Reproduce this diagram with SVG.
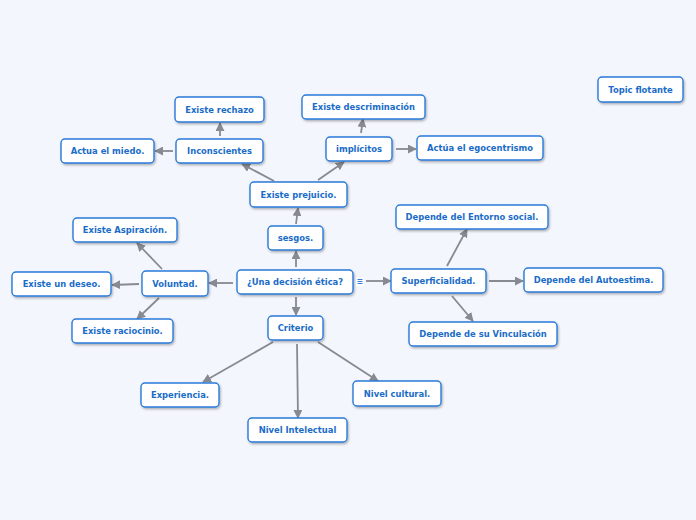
<svg xmlns="http://www.w3.org/2000/svg" width="696" height="520" viewBox="0 0 696 520">
<style>
.n rect{fill:#ffffff;stroke:#2a7ad9;stroke-width:1.4;filter:url(#sh)}
.n text{font-family:"DejaVu Sans",Verdana,sans-serif;font-weight:bold;font-size:8.4px;fill:#1a6cc8;text-anchor:middle}
.c line{stroke:#878a90;stroke-width:1.8;marker-end:url(#ah)}
</style>
<defs>
<filter id="sh" x="-20%" y="-30%" width="140%" height="170%">
<feDropShadow dx="1" dy="1.5" stdDeviation="0.9" flood-color="#000" flood-opacity="0.3"/>
</filter>
<marker id="ah" viewBox="0 0 10 10" refX="9" refY="5" markerWidth="9" markerHeight="9" markerUnits="userSpaceOnUse" orient="auto">
<path d="M0,0 L10,5 L0,10 z" fill="#878a90"/>
</marker>
</defs>
<rect width="696" height="520" fill="#f3f6fd"/>
<g class="c" id="connectors">
<line x1="220" y1="136" x2="220" y2="123"/>
<line x1="173" y1="151" x2="155" y2="151"/>
<line x1="274" y1="181" x2="242" y2="164"/>
<line x1="318" y1="180" x2="344" y2="162"/>
<line x1="361" y1="133" x2="363" y2="119"/>
<line x1="396" y1="149" x2="416" y2="149"/>
<line x1="296" y1="224" x2="298" y2="208"/>
<line x1="296" y1="267" x2="296" y2="251"/>
<line x1="233" y1="283" x2="209" y2="283"/>
<line x1="162" y1="269" x2="137" y2="243"/>
<line x1="139" y1="284" x2="112" y2="285"/>
<line x1="159" y1="298" x2="137" y2="319"/>
<line x1="296" y1="297" x2="296" y2="315"/>
<line x1="366" y1="281" x2="391" y2="281"/>
<line x1="447" y1="266" x2="467" y2="229"/>
<line x1="489" y1="281" x2="523" y2="281"/>
<line x1="452" y1="296" x2="473" y2="321"/>
<line x1="273" y1="342" x2="203" y2="382"/>
<line x1="297" y1="344" x2="298" y2="418"/>
<line x1="318" y1="342" x2="378" y2="381"/>
</g>
<g id="note-icon">
<rect x="356" y="277" width="8" height="9" fill="#ffffff"/>
<path d="M357.5,279.5h5M357.5,281.5h5M357.5,283.5h5" stroke="#3a7fd6" stroke-width="1"/>
</g>
<g class="n" id="n-existe-rechazo"><rect x="175" y="97" width="89" height="25" rx="4"/><text x="219.5" y="112.5">Existe rechazo</text></g>
<g class="n" id="n-inconscientes"><rect x="176" y="139" width="87" height="24" rx="4"/><text x="219.5" y="154">Inconscientes</text></g>
<g class="n" id="n-actua-miedo"><rect x="61" y="139" width="93" height="24" rx="4"/><text x="107.5" y="154">Actua el miedo.</text></g>
<g class="n" id="n-existe-prejuicio"><rect x="250" y="182" width="97" height="25" rx="4"/><text x="298.5" y="197.5">Existe prejuicio.</text></g>
<g class="n" id="n-descriminacion"><rect x="302" y="95" width="123" height="24" rx="4"/><text x="363.5" y="110">Existe descriminación</text></g>
<g class="n" id="n-implicitos"><rect x="326" y="137" width="66" height="24" rx="4"/><text x="359" y="152">implícitos</text></g>
<g class="n" id="n-egocentrismo"><rect x="417" y="136" width="126" height="24" rx="4"/><text x="480" y="151">Actúa el egocentrismo</text></g>
<g class="n" id="n-aspiracion"><rect x="73" y="218" width="104" height="24" rx="4"/><text x="125" y="233">Existe Aspiración.</text></g>
<g class="n" id="n-sesgos"><rect x="268" y="226" width="55" height="24" rx="4"/><text x="295.5" y="241">sesgos.</text></g>
<g class="n" id="n-deseo"><rect x="12" y="272" width="99" height="24" rx="4"/><text x="61.5" y="287">Existe un deseo.</text></g>
<g class="n" id="n-voluntad"><rect x="142" y="271" width="66" height="25" rx="4"/><text x="175" y="286.5">Voluntad.</text></g>
<g class="n" id="n-central"><rect x="237" y="270" width="116" height="24" rx="4"/><text x="295" y="285">¿Una decisión ética?</text></g>
<g class="n" id="n-raciocinio"><rect x="72" y="319" width="101" height="24" rx="4"/><text x="122.5" y="334">Existe raciocinio.</text></g>
<g class="n" id="n-criterio"><rect x="268" y="316" width="55" height="24" rx="4"/><text x="295.5" y="331">Criterio</text></g>
<g class="n" id="n-entorno"><rect x="396" y="205" width="152" height="24" rx="4"/><text x="472" y="220">Depende del Entorno social.</text></g>
<g class="n" id="n-superficialidad"><rect x="391" y="269" width="95" height="24" rx="4"/><text x="438.5" y="284">Superficialidad.</text></g>
<g class="n" id="n-autoestima"><rect x="524" y="268" width="139" height="24" rx="4"/><text x="593.5" y="283">Depende del Autoestima.</text></g>
<g class="n" id="n-vinculacion"><rect x="409" y="322" width="148" height="24" rx="4"/><text x="483" y="337">Depende de su Vinculación</text></g>
<g class="n" id="n-experiencia"><rect x="141" y="383" width="78" height="24" rx="4"/><text x="180" y="398">Experiencia.</text></g>
<g class="n" id="n-cultural"><rect x="353" y="381" width="88" height="25" rx="4"/><text x="397" y="396.5">Nivel cultural.</text></g>
<g class="n" id="n-intelectual"><rect x="248" y="418" width="99" height="24" rx="4"/><text x="297.5" y="433">Nivel Intelectual</text></g>
<g class="n" id="n-flotante"><rect x="598" y="77" width="85" height="25" rx="4"/><text x="640.5" y="92.5">Topic flotante</text></g>
</svg>
